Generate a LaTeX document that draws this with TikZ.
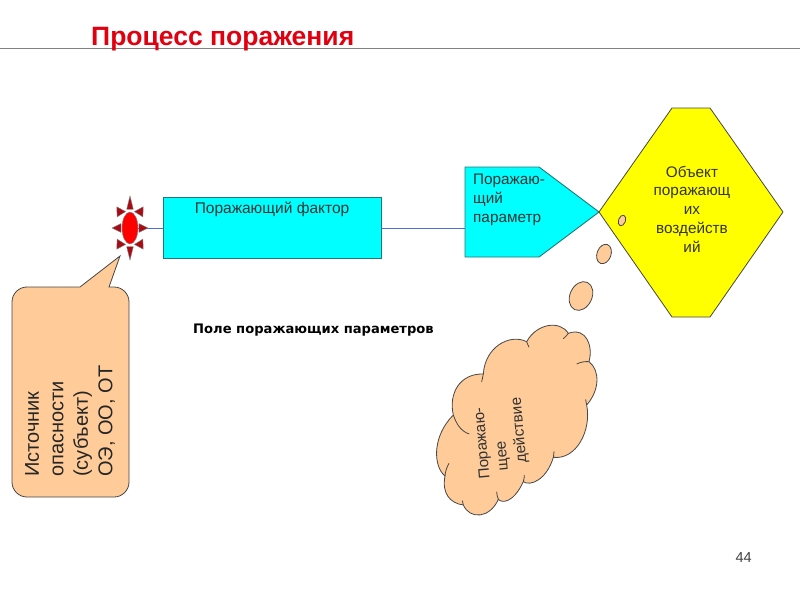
\documentclass[tikz,border=0pt]{standalone}
\usepackage{fontspec}
\setmainfont{Liberation Sans}
\newfontfamily\verdfont{DejaVu Sans}
\usepackage{xcolor}
\usetikzlibrary{arrows.meta,positioning,shapes.geometric,calc}
\definecolor{peach}{RGB}{255,204,153}
\definecolor{edgegray}{RGB}{70,70,70}
\definecolor{linkblue}{RGB}{80,110,210}
\definecolor{titlered}{RGB}{225,0,15}
\definecolor{spikered}{RGB}{170,10,20}
\definecolor{cyanfill}{RGB}{0,255,255}
\definecolor{cyanedge}{RGB}{30,120,120}
\definecolor{yellowfill}{RGB}{255,255,0}
\definecolor{puresrc}{RGB}{255,0,0}
\begin{document}
\begin{tikzpicture}[
      x=1pt, y=-1pt,
      txt/.style={inner sep=0pt, align=center, text=black!80},
      shapeline/.style={draw=edgegray, line width=0.8pt},
      cyanbox/.style={draw=cyanedge, line width=0.9pt, fill=cyanfill},
      bubble/.style={ellipse, shapeline, fill=peach, inner sep=0pt},
      spike/.style={draw=black!50, line width=0.4pt, fill=spikered},
      link/.style={draw=linkblue, line width=0.9pt}
    ]
      \useasboundingbox (0,0) rectangle (800,600);
      % heading
      \draw[draw=black!50, line width=0.7pt] (0,48) coordinate (rulea) -- (800,48) coordinate (ruleb);
      \node[anchor=base west, inner sep=0pt, text=titlered, font=\fontsize{26.5}{30}\selectfont\bfseries] (title) at (91,45) {Процесс поражения};
      \node[anchor=base east, inner sep=0pt, text=black!75, font=\fontsize{14.5}{17}\selectfont] (pagenum) at (752,562) {44};
      % main row
      \node[cyanbox, minimum width=218pt, minimum height=61pt, inner sep=0pt] (factor) at (272,227.5) {};
      \node[txt, font=\fontsize{15.5}{18}\selectfont] (factortxt) at (272,209) {Поражающий фактор};
      \draw[cyanbox] (465,167) -- (539,167) -- (599,212) -- (539,257) -- (465,257) -- cycle;
      \coordinate (paramw) at (465,228);
      \node[anchor=west, txt, align=left, font=\fontsize{15.3}{19}\selectfont] (paramtxt) at (473,200) {Поражаю-\\щий\\параметр};
      \draw[shapeline, fill=yellowfill] (599,212) -- (672,108) -- (710,108) -- (783,212) -- (710,317) -- (672,317) -- cycle;
      \node[txt, font=\fontsize{15.3}{18.8}\selectfont] (objtxt) at (692,209) {Объект\\поражающ\\их\\воздейств\\ий};
      % source with its spikes
      \node[ellipse, draw=black!45, line width=0.5pt, fill=puresrc, minimum width=16pt, minimum height=32pt, inner sep=0pt] (src) at (130,228) {};
      \draw[link] (src) -- (src.center -| factor.west);
      \draw[link] (factor.east |- paramw) -- (paramw);
      \foreach \ang/\len/\rad/\wid in {0/18/10/26,58/25/17/17,90/32/19/10,122/25/17/17,180/18/10/26,238/25/17/17,270/32/19/10,302/25/17/17}{
        \draw[spike] ($(src.center)+({\ang-\wid}:\rad)$) -- ($(src.center)+(\ang:\len)$) -- ($(src.center)+({\ang+\wid}:\rad)$) -- cycle;
      }
      \node[txt, text=black, font=\verdfont\fontsize{13.1}{16}\selectfont\bfseries] (field) at (313.5,330) {Поле поражающих параметров};
      % callout
      \draw[shapeline, fill=peach] (40,287) [sharp corners] -- (80,287) -- (120,256) -- (109,287) -- (112,287) [rounded corners=15pt] -- (129,287) -- (129,497) -- (12,497) -- (12,287) -- cycle;
      \node[txt, rotate=90, anchor=west, align=left, font=\fontsize{20}{24.5}\selectfont, text=black!85] (srctxt) at (70,477) {Источник\\опасности\\(субъект)\\ОЭ, ОО, ОТ};
      % thought bubbles and cloud
      \node[bubble, minimum width=7pt, minimum height=11pt, rotate=-20] (dota) at (622,220.5) {};
      \node[bubble, minimum width=14pt, minimum height=20pt, rotate=-20] (dotb) at (604,254) {};
      \node[bubble, minimum width=22pt, minimum height=30pt, rotate=-25] (dotc) at (581,296) {};
      \begin{scope}[shift={(430,290)}, x=0.3333pt, y=-0.3333pt]
        \draw[shapeline, fill=peach] (70,375) .. controls (55,310) and (90,250) .. (160,252)
          .. controls (165,170) and (240,130) .. (290,155)
          .. controls (320,100) and (390,90) .. (415,130)
          .. controls (470,110) and (490,170) .. (477,215)
          .. controls (510,240) and (510,300) .. (470,345)
          .. controls (485,420) and (440,510) .. (370,502)
          .. controls (350,570) and (300,590) .. (280,575)
          .. controls (250,640) and (215,640) .. (205,628)
          .. controls (180,685) and (120,690) .. (100,645)
          .. controls (60,640) and (35,610) .. (45,558)
          .. controls (10,530) and (5,440) .. (70,375) -- cycle;
        \draw[shapeline] (70,375) .. controls (80,405) and (95,425) .. (118,432);
        \draw[shapeline] (160,252) .. controls (158,260) and (157,268) .. (155,276);
        \draw[shapeline] (290,155) .. controls (292,160) and (294,165) .. (297,172);
        \draw[shapeline] (415,130) .. controls (411,136) and (406,141) .. (400,146);
        \draw[shapeline] (477,215) .. controls (465,214) and (452,216) .. (440,222);
        \draw[shapeline] (470,345) .. controls (469,340) and (468,334) .. (467,328);
        \draw[shapeline] (370,502) .. controls (371,496) and (372,490) .. (372,484);
        \draw[shapeline] (280,575) .. controls (282,568) and (283,562) .. (283,555);
        \draw[shapeline] (205,628) .. controls (202,620) and (200,612) .. (200,605);
        \draw[shapeline] (100,645) .. controls (98,640) and (97,636) .. (97,632);
        \draw[shapeline] (45,558) .. controls (46,545) and (50,532) .. (57,520);
      \end{scope}
      \node[txt, rotate=95, anchor=north west, align=left, font=\fontsize{15.3}{19}\selectfont] (cloudtxt) at (479,480) {Поражаю-\\\hspace*{7pt}щее\\\hspace*{13pt}действие};
    \end{tikzpicture}
\end{document}
